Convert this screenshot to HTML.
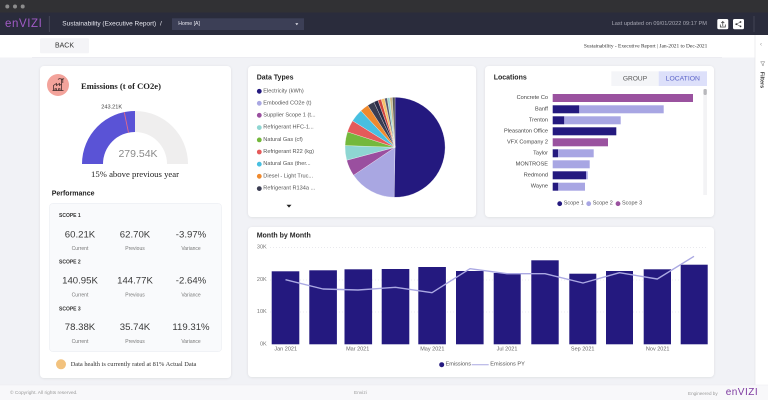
<!DOCTYPE html>
<html><head><meta charset="utf-8"><style>
html,body{margin:0;padding:0;width:768px;height:400px;overflow:hidden;background:#f1f2f6;}
svg{display:block}
text{font-family:"Liberation Sans",sans-serif;dominant-baseline:central}
.s{font-family:"Liberation Serif",serif}
</style></head><body>
<svg width="768" height="400" viewBox="0 0 768 400" xmlns="http://www.w3.org/2000/svg">
<defs>
<filter id="sh" x="-5%" y="-5%" width="110%" height="110%"><feDropShadow dx="0" dy="0.5" stdDeviation="1.2" flood-color="#000" flood-opacity="0.09"/></filter>
</defs>
<rect width="768" height="400" fill="#f1f2f6"/>

<!-- window strip -->
<rect x="0" y="0" width="768" height="12.5" fill="#313134"/>
<circle cx="7.3" cy="6.5" r="2" fill="#8c8c8c"/>
<circle cx="15" cy="6.5" r="2" fill="#8c8c8c"/>
<circle cx="22.7" cy="6.5" r="2" fill="#8c8c8c"/>

<!-- nav bar -->
<rect x="0" y="12.5" width="768" height="22.5" fill="#2a2c3c"/>
<text x="5" y="24" font-size="11.5" fill="#a15bc6" letter-spacing="0.6">enVIZI</text>
<line x1="49.3" y1="16" x2="49.3" y2="32" stroke="#4a4c5c" stroke-width="0.8"/>
<text x="62.3" y="24" font-size="6.5" fill="#e6e6ee">Sustainability (Executive Report)</text>
<text x="160" y="24" font-size="6.5" fill="#e6e6ee">/</text>
<rect x="172" y="18.3" width="132" height="11.7" fill="#3c3f56"/>
<text x="178.3" y="24.2" font-size="5.2" fill="#e6e6ee">Home [A]</text>
<path d="M295.3 23.2 L298.3 23.2 L296.8 25.2 Z" fill="#e6e6ee"/>
<text x="611.7" y="24" font-size="5.6" fill="#a8a8b4">Last updated on 09/01/2022 09:17 PM</text>
<rect x="717.3" y="19" width="11" height="10.3" rx="1.5" fill="#fff"/>
<path d="M720.3 24.5 v2.5 h5 v-2.5 M722.8 26 v-4.5 M721.3 23 l1.5 -1.5 l1.5 1.5" stroke="#333" stroke-width="0.7" fill="none"/>
<rect x="733" y="19" width="11" height="10.3" rx="1.5" fill="#fff"/>
<circle cx="736.3" cy="24.2" r="0.9" fill="#333"/><circle cx="740.5" cy="22" r="0.9" fill="#333"/><circle cx="740.5" cy="26.4" r="0.9" fill="#333"/>
<path d="M736.3 24.2 L740.5 22 M736.3 24.2 L740.5 26.4" stroke="#333" stroke-width="0.5"/>
<line x1="754" y1="16" x2="754" y2="32" stroke="#4a4c5c" stroke-width="0.8"/>

<!-- white header -->
<rect x="0" y="35" width="768" height="22.5" fill="#fff"/>
<rect x="40" y="38.3" width="49" height="15" rx="1" fill="#f4f4f7"/>
<text x="64.5" y="46" font-size="7" fill="#333" text-anchor="middle">BACK</text>
<text class="s" x="707.3" y="46.7" font-size="5.4" fill="#333" text-anchor="end">Sustainability - Executive Report | Jan-2021 to Dec-2021</text>
<line x1="32" y1="57.5" x2="722" y2="57.5" stroke="#e9e9ee" stroke-width="0.8"/>

<!-- right sidebar -->
<rect x="755" y="35" width="13" height="350" fill="#fff"/>
<line x1="755" y1="35" x2="755" y2="385" stroke="#e4e4e8" stroke-width="0.7"/>
<text x="761" y="45" font-size="6" fill="#999" text-anchor="middle">‹</text>
<path d="M760.6 61.8 h4.2 l-1.6 2 v2 l-1 -0.6 v-1.4 Z" fill="none" stroke="#777" stroke-width="0.5"/>
<text x="761.7" y="80" font-size="5.5" font-weight="bold" fill="#333" text-anchor="middle" transform="rotate(90 761.7 80)">Filters</text>

<!-- footer -->
<rect x="0" y="385" width="768" height="15" fill="#f8f8fa"/>
<line x1="0" y1="385" x2="768" y2="385" stroke="#ebebef" stroke-width="0.6"/>
<text x="10" y="393.3" font-size="4.8" fill="#9a9a9a">© Copyright. All rights reserved.</text>
<text x="354" y="393.3" font-size="4.8" fill="#9a9a9a">Envizi</text>
<text x="688" y="393.3" font-size="4.6" fill="#9a9a9a">Engineered by</text>
<text x="725.7" y="392.5" font-size="10" fill="#7d3aa0" letter-spacing="0.5">enVIZI</text>

<!-- LEFT CARD -->
<rect x="40" y="66" width="191" height="312" rx="4" fill="#fff" filter="url(#sh)"/>
<circle cx="58" cy="85" r="11" fill="#f3a39b"/>
<path d="M52.5 90.5 h11 M53.5 90.5 v-5 l3 -2 v2 l3 -2 v2 l2 -1.5 v6.5 M55 90.5 v-1.8 h1.5 v1.8 M58.5 90.5 v-1.8 h1.5 v1.8 M61.5 84 v-5 h1.3 v4 M58 79.5 q1.5 -1.5 3 -0.5 q1.5 1 3 -0.5" stroke="#3c2828" stroke-width="0.75" fill="none"/>
<text class="s" x="81" y="86" font-size="8.6" font-weight="bold" fill="#222">Emissions (t of CO2e)</text>

<!-- gauge -->
<path d="M135 111 A53 53 0 0 1 188 164 L167 164 A32 32 0 0 0 135 132 Z" fill="#efeeee"/>
<path d="M82 164 A53 53 0 0 1 135 111 L135 132 A32 32 0 0 0 103 164 Z" fill="#5a53d6"/>
<line x1="124.25" y1="112.1" x2="128.5" y2="132.7" stroke="#e06a8a" stroke-width="0.9"/>
<text x="111.7" y="107.7" font-size="5.6" fill="#444" text-anchor="middle">243.21K</text>
<text x="138" y="154" font-size="10.5" fill="#8a8a8a" text-anchor="middle">279.54K</text>
<text class="s" x="135" y="174" font-size="8.7" fill="#222" text-anchor="middle">15% above previous year</text>
<text x="51.7" y="194" font-size="7" font-weight="bold" fill="#222">Performance</text>

<rect x="49.3" y="203.3" width="172.4" height="148.4" rx="4" fill="#f9fafc" stroke="#eceef3" stroke-width="0.6"/>
<g font-size="5" font-weight="bold" fill="#333">
<text x="59" y="216">SCOPE 1</text>
<text x="59" y="262.7">SCOPE 2</text>
<text x="59" y="309.3">SCOPE 3</text>
</g>
<g font-size="9.6" fill="#3a3a3a" text-anchor="middle">
<text x="80" y="235">60.21K</text><text x="135" y="235">62.70K</text><text x="191" y="235">-3.97%</text>
<text x="80" y="281">140.95K</text><text x="135" y="281">144.77K</text><text x="191" y="281">-2.64%</text>
<text x="80" y="327.7">78.38K</text><text x="135" y="327.7">35.74K</text><text x="191" y="327.7">119.31%</text>
</g>
<g font-size="5" fill="#777" text-anchor="middle">
<text x="80" y="249">Current</text><text x="135" y="249">Previous</text><text x="191" y="249">Variance</text>
<text x="80" y="295.7">Current</text><text x="135" y="295.7">Previous</text><text x="191" y="295.7">Variance</text>
<text x="80" y="342">Current</text><text x="135" y="342">Previous</text><text x="191" y="342">Variance</text>
</g>
<circle cx="61" cy="364.3" r="5" fill="#f2c27e"/>
<text class="s" x="70.7" y="364.7" font-size="6.4" fill="#333">Data health is currently rated at 81% Actual Data</text>

<!-- DATA TYPES CARD -->
<rect x="248" y="66" width="228" height="151" rx="4" fill="#fff" filter="url(#sh)"/>
<text x="256.7" y="78" font-size="7" font-weight="bold" fill="#252525">Data Types</text>
<g font-size="5.6" fill="#555">
<circle cx="259.3" cy="91.3" r="2.4" fill="#24197f"/><text x="263.3" y="91.3">Electricity (kWh)</text>
<circle cx="259.3" cy="103.3" r="2.4" fill="#a9a7e2"/><text x="263.3" y="103.3">Embodied CO2e (t)</text>
<circle cx="259.3" cy="115.3" r="2.4" fill="#9a4f9f"/><text x="263.3" y="115.3">Supplier Scope 1 (t...</text>
<circle cx="259.3" cy="127.6" r="2.4" fill="#8ed6d2"/><text x="263.3" y="127.6">Refrigerant HFC-1...</text>
<circle cx="259.3" cy="139.9" r="2.4" fill="#74b83c"/><text x="263.3" y="139.9">Natural Gas (cf)</text>
<circle cx="259.3" cy="152" r="2.4" fill="#e55a5a"/><text x="263.3" y="152">Refrigerant R22 (kg)</text>
<circle cx="259.3" cy="164.2" r="2.4" fill="#48bfe0"/><text x="263.3" y="164.2">Natural Gas (ther...</text>
<circle cx="259.3" cy="176.3" r="2.4" fill="#ef8a2e"/><text x="263.3" y="176.3">Diesel - Light Truc...</text>
<circle cx="259.3" cy="188.6" r="2.4" fill="#3b3d52"/><text x="263.3" y="188.6">Refrigerant R134a ...</text>
</g>
<path d="M286.5 204.8 L291.5 204.8 L289 207.6 Z" fill="#222"/>

<!-- pie -->
<g stroke="#fff" stroke-width="0.3">
<path d="M395 147.3 L395 97.3 A50 50 0 1 1 394.13 197.29 Z" fill="#24197f"/>
<path d="M395 147.3 L394.13 197.29 A50 50 0 0 1 353.55 175.25 Z" fill="#a9a7e2"/>
<path d="M395 147.3 L353.55 175.25 A50 50 0 0 1 346.7 160.24 Z" fill="#9a4f9f"/>
<path d="M395 147.3 L346.7 160.24 A50 50 0 0 1 345.03 145.56 Z" fill="#8ed6d2"/>
<path d="M395 147.3 L345.03 145.56 A50 50 0 0 1 347.45 131.85 Z" fill="#74b83c"/>
<path d="M395 147.3 L347.45 131.85 A50 50 0 0 1 352.6 120.8 Z" fill="#e55a5a"/>
<path d="M395 147.3 L352.6 120.8 A50 50 0 0 1 360.9 110.75 Z" fill="#48bfe0"/>
<path d="M395 147.3 L360.9 110.75 A50 50 0 0 1 367.77 105.35 Z" fill="#ef8a2e"/>
<path d="M395 147.3 L367.77 105.35 A50 50 0 0 1 373.87 102.0 Z" fill="#3b3d52"/>
<path d="M395 147.3 L373.87 102.0 A50 50 0 0 1 377.9 100.3 Z" fill="#2b2b48"/>
<path d="M395 147.3 L377.9 100.3 A50 50 0 0 1 381.22 99.24 Z" fill="#d0453f"/>
<path d="M395 147.3 L381.22 99.24 A50 50 0 0 1 384.6 98.4 Z" fill="#f5c26b"/>
<path d="M395 147.3 L384.6 98.4 A50 50 0 0 1 387.18 97.9 Z" fill="#5a5a70"/>
<path d="M395 147.3 L387.18 97.9 A50 50 0 0 1 389.77 97.57 Z" fill="#9dd6d0"/>
<path d="M395 147.3 L389.77 97.57 A50 50 0 0 1 392.38 97.37 Z" fill="#c9b98a"/>
<path d="M395 147.3 L392.38 97.37 A50 50 0 0 1 395 97.3 Z" fill="#555"/>
</g>

<!-- LOCATIONS CARD -->
<rect x="485" y="66" width="229" height="151" rx="4" fill="#fff" filter="url(#sh)"/>
<text x="493.7" y="78" font-size="7" font-weight="bold" fill="#252525">Locations</text>
<rect x="611.3" y="71.3" width="47.4" height="14.7" fill="#f4f5f8"/>
<rect x="658.7" y="71.3" width="48.3" height="14.7" fill="#dde0fa"/>
<text x="635" y="79" font-size="6.6" fill="#555" text-anchor="middle">GROUP</text>
<text x="682.8" y="79" font-size="6.8" fill="#5b63c8" text-anchor="middle">LOCATION</text>
<g font-size="5.6" fill="#444" text-anchor="end">
<text x="548" y="98">Concrete Co</text>
<text x="548" y="109.3">Banff</text>
<text x="548" y="120.3">Trenton</text>
<text x="548" y="131.3">Pleasanton Office</text>
<text x="548" y="142.3">VFX Company 2</text>
<text x="548" y="153.3">Taylor</text>
<text x="548" y="164.3">MONTROSE</text>
<text x="548" y="175.3">Redmond</text>
<text x="548" y="186.7">Wayne</text>
</g>
<rect x="552.7" y="94" width="140.3" height="8" fill="#9a529f"/>
<rect x="552.7" y="105.3" width="26.6" height="8" fill="#24197f"/><rect x="579.3" y="105.3" width="84.4" height="8" fill="#a8a6e3"/>
<rect x="552.7" y="116.3" width="11.6" height="8" fill="#24197f"/><rect x="564.3" y="116.3" width="56.4" height="8" fill="#a8a6e3"/>
<rect x="552.7" y="127.3" width="63.6" height="8" fill="#24197f"/>
<rect x="552.7" y="138.3" width="55.3" height="8" fill="#9a529f"/>
<rect x="552.7" y="149.3" width="5.3" height="8" fill="#24197f"/><rect x="558" y="149.3" width="35.7" height="8" fill="#a8a6e3"/>
<rect x="552.7" y="160.3" width="37" height="8" fill="#a8a6e3"/>
<rect x="552.7" y="171.3" width="33.3" height="8" fill="#24197f"/><rect x="586" y="171.3" width="1.7" height="8" fill="#a8a6e3"/>
<rect x="552.7" y="182.7" width="5.6" height="8" fill="#24197f"/><rect x="558.3" y="182.7" width="26.7" height="8" fill="#a8a6e3"/>
<rect x="703.3" y="89" width="3.7" height="106" fill="#f3f3f5"/>
<rect x="703.5" y="89" width="3.3" height="6" rx="1.5" fill="#b8b8bc"/>
<g font-size="5.5" fill="#555">
<circle cx="559.7" cy="203.7" r="2.4" fill="#24197f"/><text x="563.7" y="203.7">Scope 1</text>
<circle cx="588.7" cy="203.7" r="2.4" fill="#a8a6e3"/><text x="592.7" y="203.7">Scope 2</text>
<circle cx="618" cy="203.7" r="2.4" fill="#9a529f"/><text x="622" y="203.7">Scope 3</text>
</g>

<!-- MONTH CARD -->
<rect x="248" y="227" width="466" height="150" rx="4" fill="#fff" filter="url(#sh)"/>
<text x="256.7" y="236" font-size="7" font-weight="bold" fill="#252525">Month by Month</text>
<g stroke="#dcdce2" stroke-width="0.6" stroke-dasharray="1 2">
<line x1="270" y1="247.3" x2="708" y2="247.3"/>
<line x1="270" y1="280" x2="708" y2="280"/>
<line x1="270" y1="312" x2="708" y2="312"/>
</g>
<g font-size="5.5" fill="#777" text-anchor="end">
<text x="266.7" y="247.3">30K</text>
<text x="266.7" y="280">20K</text>
<text x="266.7" y="312">10K</text>
<text x="266.7" y="344.3">0K</text>
</g>
<g fill="#24197f">
<rect x="271.7" y="271.3" width="27.6" height="73"/>
<rect x="309.3" y="270.3" width="27.6" height="74"/>
<rect x="344.5" y="269.3" width="27.6" height="75"/>
<rect x="381.7" y="269" width="27.6" height="75.3"/>
<rect x="418.3" y="267" width="27.6" height="77.3"/>
<rect x="456" y="271" width="27.6" height="73.3"/>
<rect x="493.7" y="273" width="27" height="71.3"/>
<rect x="531.3" y="260.3" width="27.4" height="84"/>
<rect x="569.3" y="273.7" width="27" height="70.6"/>
<rect x="606" y="271" width="27" height="73.3"/>
<rect x="643.7" y="269.3" width="27.3" height="75"/>
<rect x="680.7" y="264.7" width="27" height="79.6"/>
</g>
<polyline points="285.5,279.7 323,289 358,290 395.5,287.3 432,292.7 470,268.7 507,273.7 545,273.7 583,283 619.5,272.7 657.3,279 694,256.3" fill="none" stroke="#aaa8e2" stroke-width="1.4" stroke-linejoin="round"/>
<g font-size="5.5" fill="#666" text-anchor="middle">
<text x="285.7" y="349.7">Jan 2021</text>
<text x="357.7" y="349.7">Mar 2021</text>
<text x="432.3" y="349.7">May 2021</text>
<text x="507" y="349.7">Jul 2021</text>
<text x="582.7" y="349.7">Sep 2021</text>
<text x="657.7" y="349.7">Nov 2021</text>
</g>
<circle cx="441.7" cy="364.7" r="2.5" fill="#24197f"/>
<text x="445.5" y="364.7" font-size="5.6" fill="#555">Emissions</text>
<line x1="471.7" y1="364.7" x2="488.7" y2="364.7" stroke="#aaa8e2" stroke-width="1"/>
<text x="490.3" y="364.7" font-size="5.6" fill="#555">Emissions PY</text>
</svg>
</body></html>
